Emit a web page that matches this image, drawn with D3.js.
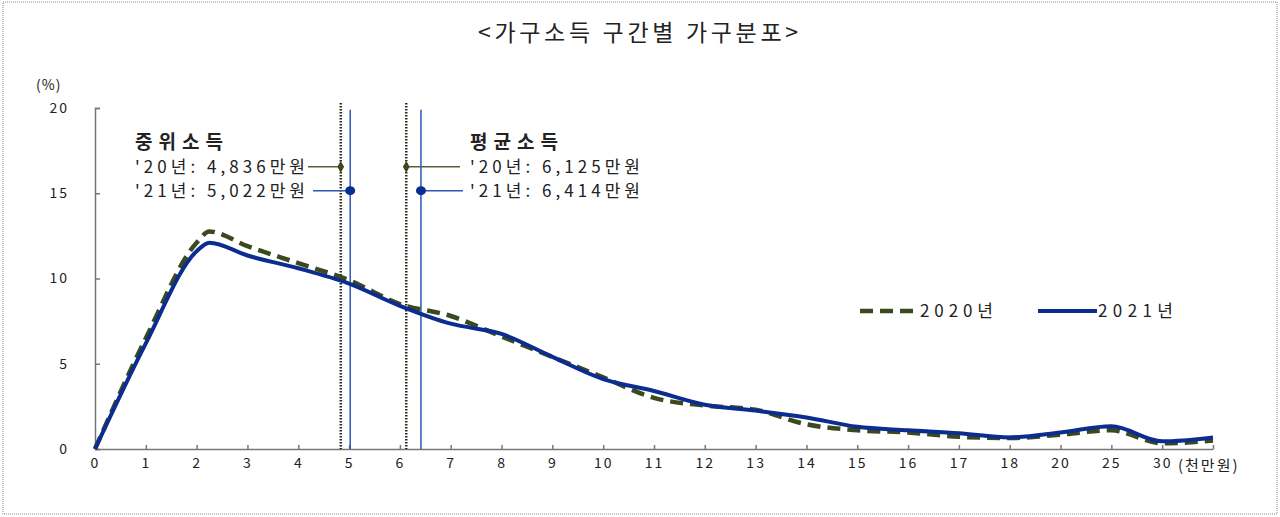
<!DOCTYPE html>
<html>
<head>
<meta charset="utf-8">
<script src="https://cdn.jsdelivr.net/npm/d3@7"></script>
<style>
  body { margin: 0; background: #fff; }
  svg text { font-family: "Noto Sans CJK KR", "Noto Sans", sans-serif; fill: #222; }
</style>
</head>
<body>
<script>
// tick labels for each slot on the x axis (unit: 천만원), last slot has no label
var xLabels = ["0","1","2","3","4","5","6","7","8","9","10","11","12","13","14","15","16","17","18","20","25","30",""];
var yTicks = [0, 5, 10, 15, 20];

// point positions (in slots) and values (%)
var xPos     = [0, 1, 2, 2.25, 3, 4, 5, 6, 7, 8, 9, 10, 11, 12, 13, 14, 15, 16, 17, 18, 19, 20, 21, 22];
var vals2020 = [0, 6.5, 12.1, 12.75, 11.9, 10.9, 9.9, 8.5, 7.8, 6.6, 5.4, 4.2, 3.0, 2.55, 2.3, 1.45, 1.1, 0.97, 0.72, 0.64, 0.84, 1.1, 0.33, 0.5];
var vals2021 = [0, 6.2, 11.6, 12.1, 11.35, 10.6, 9.7, 8.4, 7.35, 6.75, 5.4, 4.1, 3.4, 2.6, 2.25, 1.85, 1.3, 1.1, 0.92, 0.68, 0.97, 1.33, 0.45, 0.68];

// median / mean income (천만원)
var median = { y2020: 4.836, y2021: 5.022 };
var mean   = { y2020: 6.125, y2021: 6.414 };
var medianText = ["'20년: 4,836만원", "'21년: 5,022만원"];
var meanText   = ["'20년: 6,125만원", "'21년: 6,414만원"];

var W = 1280, H = 517;
var c2020 = "#3b4a1e", c2021 = "#0a2d8f", cRef = "#2f55b5";

var svg = d3.select("body").append("svg")
    .attr("width", W)
    .attr("height", H);

// dotted frame
svg.append("rect")
    .attr("x", 3).attr("y", 2)
    .attr("width", 1274).attr("height", 512)
    .attr("fill", "none")
    .attr("stroke", "#888")
    .attr("stroke-dasharray", "1,1");

var x = d3.scaleLinear().domain([0, 22]).range([95, 1213]);
var y = d3.scaleLinear().domain([0, 20]).range([449, 108]);

// title
svg.append("text")
    .attr("x", 638).attr("y", 41)
    .attr("text-anchor", "middle")
    .attr("font-size", 23)
    .attr("textLength", 320)
    .attr("lengthAdjust", "spacing")
    .text("<가구소득 구간별 가구분포>");

// y axis
var yAxis = svg.append("g")
    .attr("transform", "translate(" + x(0) + ",0)")
    .call(d3.axisLeft(y).tickValues(yTicks).tickSizeInner(-5).tickSizeOuter(-5).tickPadding(26));
yAxis.selectAll("text").attr("font-size", 14).attr("letter-spacing", "2px");

svg.append("text")
    .attr("x", 36).attr("y", 90)
    .attr("font-size", 14)
    .attr("letter-spacing", "1px")
    .text("(%)");

// x axis
var xAxis = svg.append("g")
    .attr("transform", "translate(0," + y(0) + ")")
    .call(d3.axisBottom(x)
        .tickValues(d3.range(xLabels.length))
        .tickFormat(function(i){ return xLabels[i]; })
        .tickSizeInner(-4).tickSizeOuter(0).tickPadding(9));
xAxis.selectAll("text").attr("font-size", 14).attr("letter-spacing", "2px");

svg.selectAll(".domain, .tick line").attr("stroke", "#777").attr("stroke-width", 1.5);

svg.append("text")
    .attr("x", 1178).attr("y", 471)
    .attr("font-size", 15)
    .attr("letter-spacing", "2px")
    .text("(천만원)");

// reference lines
function vline(v, dotted, top){
    svg.append("line")
        .attr("x1", x(v)).attr("x2", x(v))
        .attr("y1", y(top)).attr("y2", y(0))
        .attr("stroke", dotted ? "#2b2b18" : cRef)
        .attr("stroke-width", dotted ? 2.5 : 1.5)
        .attr("stroke-dasharray", dotted ? "1.5,1.5" : null);
}
vline(median.y2020, true, 20.3);
vline(median.y2021, false, 19.9);
vline(mean.y2020, true, 20.3);
vline(mean.y2021, false, 19.9);

// series
var data2020 = xPos.map(function(p, i){ return [p, vals2020[i]]; });
var data2021 = xPos.map(function(p, i){ return [p, vals2021[i]]; });

var line = d3.line()
    .x(function(d){ return x(d[0]); })
    .y(function(d){ return y(d[1]); })
    .curve(d3.curveMonotoneX);

svg.append("path")
    .datum(data2020)
    .attr("d", line)
    .attr("fill", "none")
    .attr("stroke", c2020)
    .attr("stroke-width", 4.5)
    .attr("stroke-dasharray", "13,7");

svg.append("path")
    .datum(data2021)
    .attr("d", line)
    .attr("fill", "none")
    .attr("stroke", c2021)
    .attr("stroke-width", 4);

// annotations
var row20 = 16.55, row21 = 15.15;

function annot(x0, title, texts, v20, v21, left){
    svg.append("text")
        .attr("x", x0).attr("y", y(row20) - 18)
        .attr("font-size", 19).attr("font-weight", "bold")
        .attr("textLength", 88).attr("lengthAdjust", "spacing")
        .text(title);
    [row20, row21].forEach(function(r, i){
        svg.append("text")
            .attr("x", x0).attr("y", y(r) + 6)
            .attr("font-size", 17)
            .attr("textLength", 170).attr("lengthAdjust", "spacing")
            .text(texts[i]);
    });
    var a20 = left ? x0 + 173 : x(v20), b20 = left ? x(v20) : x0 - 10;
    var a21 = left ? x0 + 178 : x(v21), b21 = left ? x(v21) : x0 - 7;
    svg.append("line").attr("x1", a20).attr("x2", b20)
        .attr("y1", y(row20)).attr("y2", y(row20))
        .attr("stroke", "#55633a").attr("stroke-width", 1.5);
    svg.append("line").attr("x1", a21).attr("x2", b21)
        .attr("y1", y(row21)).attr("y2", y(row21))
        .attr("stroke", cRef).attr("stroke-width", 1.5);
    svg.append("path")
        .attr("d", d3.symbol(d3.symbolDiamond, 40)())
        .attr("transform", "translate(" + x(v20) + "," + y(row20) + ")")
        .attr("fill", c2020);
    svg.append("ellipse")
        .attr("cx", x(v21)).attr("cy", y(row21))
        .attr("rx", 5).attr("ry", 4.5)
        .attr("fill", c2021);
}
annot(135, "중위소득", medianText, median.y2020, median.y2021, true);
annot(470, "평균소득", meanText, mean.y2020, mean.y2021, false);

// legend
var ly = 311;
svg.append("line")
    .attr("x1", 860).attr("x2", 917).attr("y1", ly).attr("y2", ly)
    .attr("stroke", c2020).attr("stroke-width", 4.5)
    .attr("stroke-dasharray", "13,7");
svg.append("text")
    .attr("x", 920).attr("y", ly + 6)
    .attr("font-size", 17)
    .attr("textLength", 73).attr("lengthAdjust", "spacing")
    .text("2020년");
svg.append("line")
    .attr("x1", 1038).attr("x2", 1097).attr("y1", ly).attr("y2", ly)
    .attr("stroke", c2021).attr("stroke-width", 4);
svg.append("text")
    .attr("x", 1098).attr("y", ly + 6)
    .attr("font-size", 17)
    .attr("textLength", 75).attr("lengthAdjust", "spacing")
    .text("2021년");
</script>
</body>
</html>
